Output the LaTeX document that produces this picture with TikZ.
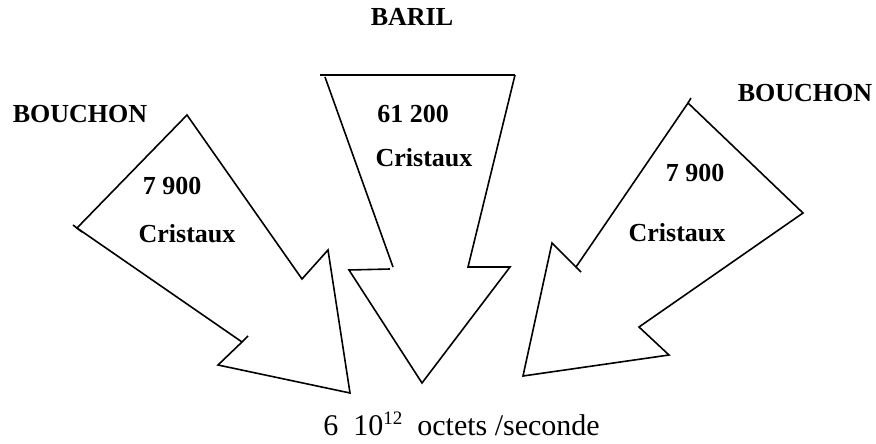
\documentclass[tikz,border=0pt]{standalone}
\usepackage{fontspec}
\setmainfont{Liberation Serif}
\begin{document}
\begin{tikzpicture}[x=1pt,y=-1pt,
  arrowline/.style={draw=black,line width=1.6pt,line join=miter},
  tickline/.style={draw=black,line width=1.6pt},
  lbl/.style={font=\fontsize{26}{30}\selectfont\bfseries,anchor=base,inner sep=0pt},
  foot/.style={font=\fontsize{30}{34}\selectfont,anchor=base east,inner sep=0pt}]
\useasboundingbox (0,0) rectangle (876,444);
% left arrow
\draw[arrowline] (187,115) -- (302,279) -- (328,250) -- (350,393) -- (218,365) -- (242,342) -- (77,228) -- cycle;
\draw[tickline] (73,225) -- (82,232);
\draw[tickline] (242,342) -- (248,336);
% middle arrow
\draw[arrowline] (320,75) -- (515,75);
\draw[arrowline] (325,77) -- (393,267);
\draw[arrowline] (390,269) -- (349,270) -- (422,383) -- (510,267) -- (468,267) -- (515,75);
% right arrow
\draw[arrowline] (688,103) -- (803,213) -- (639,327) -- (669,355) -- (523,376) -- (552,243) -- (576,267) -- cycle;
\draw[tickline] (688,103) -- (691,98);
\draw[tickline] (576,267) -- (581,272);
% labels
\node[lbl] (baril) at (412,26) {BARIL};
\node[lbl] (bouchonL) at (80,122) {BOUCHON};
\node[lbl] (bouchonR) at (805,102) {BOUCHON};
\node[lbl] (nL) at (172,194) {7 900};
\node[lbl] (cL) at (187,242) {Cristaux};
\node[lbl] (nM) at (413,122) {61 200};
\node[lbl] (cM) at (424,166) {Cristaux};
\node[lbl] (nR) at (695,181) {7 900};
\node[lbl] (cR) at (677,241) {Cristaux};
\node[foot] (rate) at (600,435) {6~~10\raisebox{11pt}{\fontsize{19}{19}\selectfont 12}~~octets /seconde};
\end{tikzpicture}
\end{document}
